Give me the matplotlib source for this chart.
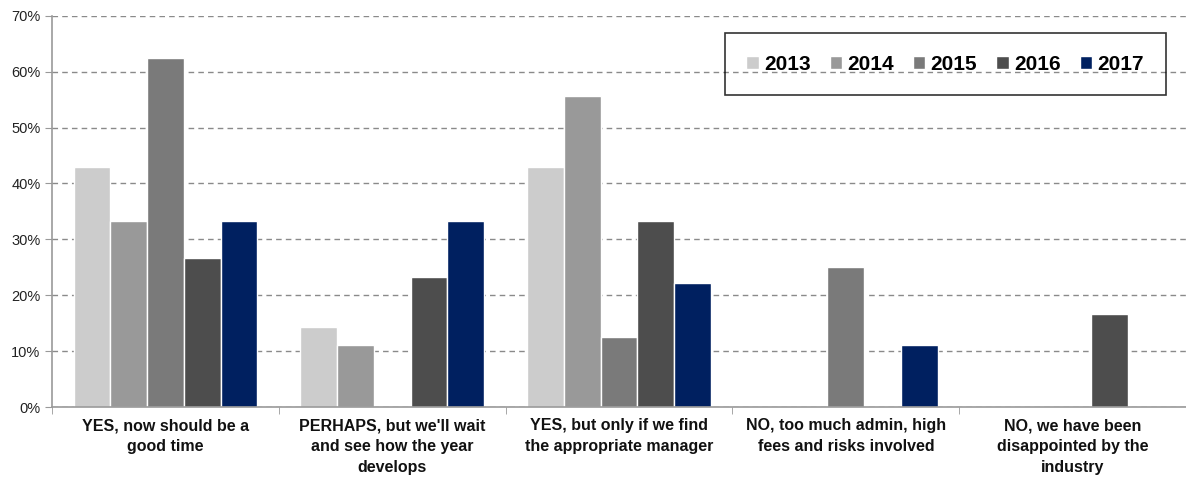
import matplotlib
matplotlib.use("Agg")
import matplotlib.pyplot as plt
import numpy as np
from matplotlib.ticker import PercentFormatter, MultipleLocator

plt.rcParams["font.family"] = ["Liberation Sans", "DejaVu Sans"]

categories = [
    "YES, now should be a\ngood time",
    "PERHAPS, but we'll wait\nand see how the year\ndevelops",
    "YES, but only if we find\nthe appropriate manager",
    "NO, too much admin, high\nfees and risks involved",
    "NO, we have been\ndisappointed by the\nindustry",
]
years = ["2013", "2014", "2015", "2016", "2017"]
share_2013 = [42.9, 14.3, 42.9, 0, 0]
share_2014 = [33.3, 11.1, 55.6, 0, 0]
share_2015 = [62.5, 0, 12.5, 25.0, 0]
share_2016 = [26.7, 23.3, 33.3, 0, 16.7]
share_2017 = [33.3, 33.3, 22.2, 11.1, 0]
colors = ["#cccccc", "#999999", "#7a7a7a", "#4d4d4d", "#002060"]

series = [share_2013, share_2014, share_2015, share_2016, share_2017]

fig = plt.figure(figsize=(11.86, 4.8), dpi=100)
ax = fig.add_axes([0.044, 0.152, 0.956, 0.815])

x = np.arange(len(categories))
w = 0.162
for i, (vals, year, c) in enumerate(zip(series, years, colors)):
    ax.bar(x + (i - 2) * w, vals, width=w, color=c, edgecolor="white",
           linewidth=1.0, label=year, zorder=2)

ax.set_xlim(-0.5, len(categories) - 0.5)
ax.set_ylim(0, 70)
ax.yaxis.set_major_locator(MultipleLocator(10))
ax.yaxis.set_major_formatter(PercentFormatter(decimals=0))
ax.grid(axis="y", linestyle=(0, (4, 3)), color="#8a8a8a", linewidth=1.0, zorder=0)
ax.set_axisbelow(True)

ax.set_xticks(x)
ax.set_xticklabels(categories, fontsize=11.5, fontweight="bold", color="#111111",
                   linespacing=1.5)
ax.tick_params(axis="x", which="major", length=0, pad=8)
ax.set_xticks(np.arange(-0.5, len(categories)), minor=True)
ax.tick_params(axis="x", which="minor", length=5, color="#999999", direction="out")
ax.tick_params(axis="y", labelsize=10.5, length=5, color="#999999", labelcolor="#222222")

for s in ["top", "right"]:
    ax.spines[s].set_visible(False)
for s in ["left", "bottom"]:
    ax.spines[s].set_color("#999999")
    ax.spines[s].set_linewidth(1.2)

leg = ax.legend(ncol=5, loc="upper left", bbox_to_anchor=(0.593, 0.957, 0.389, 0.0),
                mode="expand", frameon=True, fancybox=False, borderpad=1.05,
                borderaxespad=0.0, handlelength=0.6, handleheight=0.6,
                handletextpad=0.25, prop={"weight": "bold", "size": 15})
leg.get_frame().set_edgecolor("black")
leg.get_frame().set_linewidth(1.2)
leg.get_frame().set_facecolor("none")

fig.savefig("out.png", dpi=100)
